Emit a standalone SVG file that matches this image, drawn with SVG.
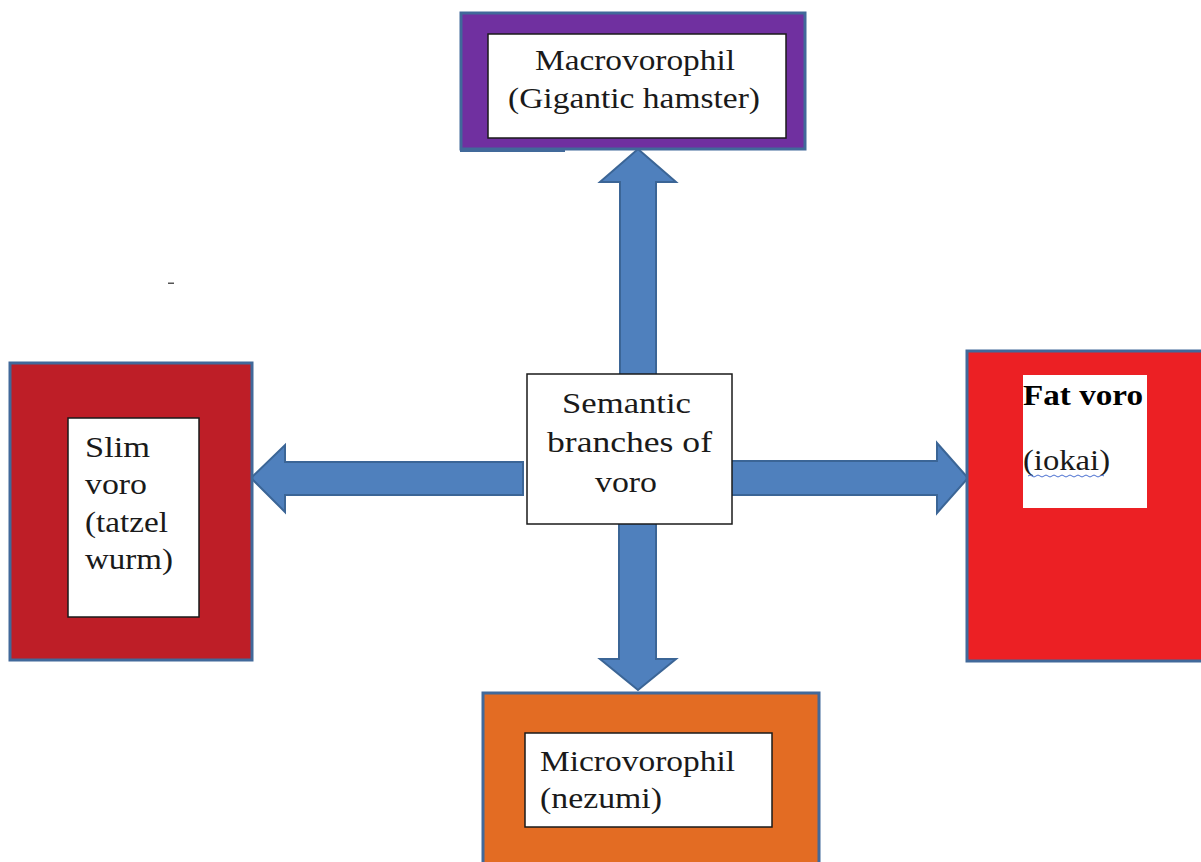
<svg xmlns="http://www.w3.org/2000/svg" width="1201" height="862" viewBox="0 0 1201 862">
<style>
.outer{stroke:#41699a;stroke-width:3}
.inner{fill:#ffffff;stroke:#1a1a1a;stroke-width:1.5}
.arrow{fill:#4f80bd;stroke:#3b6596;stroke-width:2;stroke-linejoin:miter}
.t{font-family:"Liberation Serif","Times New Roman",serif;font-size:30px;fill:#1a1a1a}
.b{font-weight:bold;fill:#000}
</style>
<rect width="1201" height="862" fill="#ffffff"/>
<rect x="168" y="282.5" width="6" height="1.5" fill="#555"/>
<g id="connectors">
<polygon class="arrow" points="620,377 620,182 600,182 638,149 676,182 656,182 656,377"/>
<polygon class="arrow" points="523,462 285,462 285,445 251,478 285,512 285,495 523,495"/>
<polygon class="arrow" points="728,461 937,461 937,443 968,478 937,513 937,495 728,495"/>
<polygon class="arrow" points="619,523 619,659 600,659 638,690 676,659 656,659 656,523"/>
</g>
<g id="macrovorophil">
<rect class="outer" x="461" y="13" width="344" height="136" fill="#7030a0"/>
<rect x="460" y="148" width="105" height="4" fill="#41699a"/>
<rect class="inner" x="488" y="34" width="298" height="104"/>
<text class="t" x="535" y="70" textLength="200" lengthAdjust="spacingAndGlyphs">Macrovorophil</text>
<text class="t" x="508" y="108" textLength="252" lengthAdjust="spacingAndGlyphs">(Gigantic hamster)</text>
</g>
<g id="slim-voro">
<rect class="outer" x="10" y="363" width="242" height="297" fill="#be1e27"/>
<rect class="inner" x="68" y="418" width="131" height="199"/>
<text class="t" x="85" y="457" textLength="65" lengthAdjust="spacingAndGlyphs">Slim</text>
<text class="t" x="85" y="494" textLength="62" lengthAdjust="spacingAndGlyphs">voro</text>
<text class="t" x="85" y="532" textLength="83" lengthAdjust="spacingAndGlyphs">(tatzel</text>
<text class="t" x="85" y="569" textLength="88" lengthAdjust="spacingAndGlyphs">wurm)</text>
</g>
<g id="fat-voro">
<rect class="outer" x="967" y="351" width="240" height="310" fill="#ec2024"/>
<rect x="1023" y="375" width="124" height="133" fill="#ffffff"/>
<text class="t b" x="1023" y="405" textLength="120" lengthAdjust="spacingAndGlyphs">Fat voro</text>
<text class="t" x="1023" y="470" textLength="87" lengthAdjust="spacingAndGlyphs">(iokai)</text>
<path d="M1028,476 q2,-2 4,0 t4,0 t4,0 t4,0 t4,0 t4,0 t4,0 t4,0 t4,0 t4,0 t4,0 t4,0 t4,0 t4,0 t4,0 t4,0 t4,0 t4,0 t4,0" fill="none" stroke="#4a6fd0" stroke-width="1"/>
</g>
<g id="microvorophil">
<rect class="outer" x="483" y="693" width="336" height="175" fill="#e36c23"/>
<rect class="inner" x="525" y="733" width="247" height="94"/>
<text class="t" x="540" y="771" textLength="195" lengthAdjust="spacingAndGlyphs">Microvorophil</text>
<text class="t" x="540" y="808" textLength="122" lengthAdjust="spacingAndGlyphs">(nezumi)</text>
</g>
<g id="center">
<rect class="inner" x="527" y="374" width="205" height="150"/>
<text class="t" x="562" y="413" textLength="129" lengthAdjust="spacingAndGlyphs">Semantic</text>
<text class="t" x="547" y="452" textLength="165" lengthAdjust="spacingAndGlyphs">branches of</text>
<text class="t" x="595" y="492" textLength="62" lengthAdjust="spacingAndGlyphs">voro</text>
</g>
</svg>
